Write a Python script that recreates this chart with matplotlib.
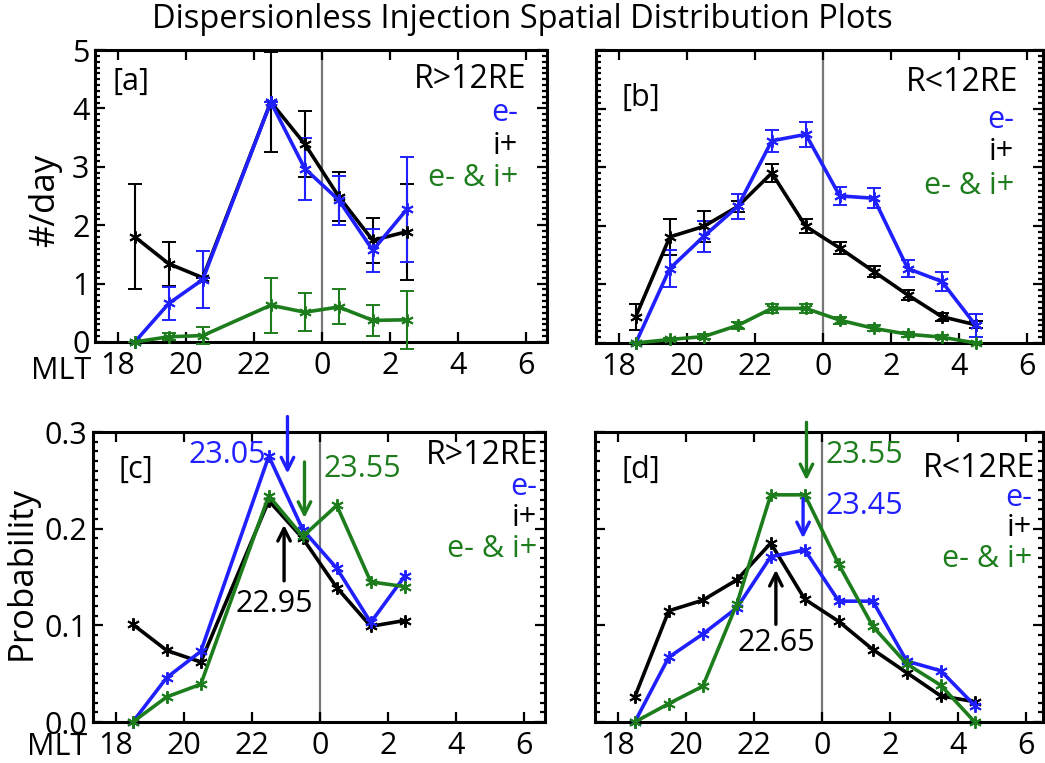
import matplotlib
matplotlib.use("Agg")
import matplotlib.pyplot as plt
from matplotlib.ticker import MultipleLocator, FormatStrFormatter

plt.rcParams["font.family"] = ["Open Sans", "DejaVu Sans"]

BLUE = "#2020ff"
GREEN = "#1d7d1d"
BLACK = "black"

# MLT hours, midnight = 24
x_far = [18.5, 19.5, 20.5, 22.5, 23.5, 24.5, 25.5, 26.5]
x_near = [18.5, 19.5, 20.5, 21.5, 22.5, 23.5, 24.5, 25.5, 26.5, 27.5, 28.5]
xtick_pos = [18, 20, 22, 24, 26, 28, 30]
xtick_lab = ["18", "20", "22", "0", "2", "4", "6"]

# [a] events per day, R > 12 RE
a_ion = [1.80, 1.34, 1.10, 4.11, 3.39, 2.49, 1.74, 1.89]
a_ion_err = [0.90, 0.38, 0.0, 0.85, 0.57, 0.42, 0.39, 0.82]
a_ele = [0.0, 0.66, 1.07, 4.11, 2.97, 2.43, 1.57, 2.27]
a_ele_err = [0.0, 0.28, 0.48, 0.0, 0.53, 0.42, 0.37, 0.90]
a_both = [0.0, 0.09, 0.11, 0.63, 0.51, 0.60, 0.37, 0.38]
a_both_err = [0.0, 0.06, 0.15, 0.47, 0.33, 0.30, 0.27, 0.50]

# [b] events per day, R < 12 RE
b_ion = [0.45, 1.81, 1.99, 2.33, 2.90, 1.99, 1.62, 1.22, 0.82, 0.45, 0.31]
b_ion_err = [0.22, 0.31, 0.26, 0.10, 0.15, 0.12, 0.10, 0.09, 0.08, 0.07, 0.06]
b_ele = [0.0, 1.27, 1.82, 2.33, 3.45, 3.56, 2.51, 2.47, 1.27, 1.05, 0.30]
b_ele_err = [0.0, 0.31, 0.26, 0.21, 0.19, 0.21, 0.16, 0.17, 0.15, 0.16, 0.20]
b_both = [0.0, 0.06, 0.11, 0.30, 0.59, 0.59, 0.39, 0.25, 0.15, 0.10, 0.0]
b_both_err = [0.0, 0.03, 0.04, 0.06, 0.07, 0.07, 0.06, 0.05, 0.04, 0.04, 0.0]

# [c] probability, R > 12 RE
c_ion = [0.101, 0.074, 0.062, 0.229, 0.190, 0.139, 0.099, 0.105]
c_ele = [0.0, 0.046, 0.073, 0.275, 0.199, 0.159, 0.103, 0.151]
c_both = [0.0, 0.026, 0.039, 0.234, 0.192, 0.224, 0.145, 0.140]

# [d] probability, R < 12 RE
d_ion = [0.026, 0.115, 0.126, 0.147, 0.185, 0.127, 0.104, 0.075, 0.051, 0.027, 0.021]
d_ele = [0.0, 0.067, 0.091, 0.118, 0.171, 0.178, 0.125, 0.125, 0.063, 0.053, 0.017]
d_both = [0.0, 0.019, 0.037, 0.122, 0.235, 0.235, 0.163, 0.099, 0.060, 0.038, 0.0]

# mean MLT of each distribution
c_marks = [23.05, 23.55, 22.95]   # e-, e- & i+, i+
d_marks = [23.55, 23.45, 22.65]   # e- & i+, e-, i+

W, H = 1045, 763
fig = plt.figure(figsize=(W / 100, H / 100), dpi=100)


def px_axes(left, top, right, bottom):
    return fig.add_axes([left / W, 1 - bottom / H, (right - left) / W, (bottom - top) / H])


def style(ax, width_px, ymax, ymajor, yminor, ylabels):
    ax.set_xlim(17.33, 17.33 + width_px / 34.0)
    ax.set_ylim(0, ymax)
    ax.set_xticks(xtick_pos)
    ax.set_xticklabels(xtick_lab)
    ax.yaxis.set_major_locator(MultipleLocator(ymajor))
    ax.yaxis.set_minor_locator(MultipleLocator(yminor))
    ax.tick_params(which="both", direction="in", top=True, right=True, labelsize=22, width=1.6)
    ax.tick_params(which="major", length=7)
    ax.tick_params(axis="x", pad=6.5)
    ax.tick_params(axis="y", pad=4)
    ax.tick_params(which="minor", length=3.5)
    ax.tick_params(axis="x", which="minor", length=0)
    if not ylabels:
        ax.set_yticklabels([])
    for s in ax.spines.values():
        s.set_linewidth(2.2)
    ax.axvline(24, color="#777777", lw=1.6, zorder=1)


def series_err(ax, x, y, e, c):
    ax.errorbar(x, y, yerr=e, color=c, lw=2.6, marker=(6, 2, 0), ms=9, mew=1.4,
                capsize=5, elinewidth=1.5, capthick=1.5, clip_on=False, zorder=3)


def series(ax, x, y, c):
    ax.plot(x, y, color=c, lw=2.6, marker=(6, 2, 0), ms=9, mew=1.4, clip_on=False, zorder=3)


def labels(ax, tag, region, tagpos, rx, ry, lx, ly):
    ax.text(tagpos[0], tagpos[1], tag, transform=ax.transAxes, fontsize=22, va="center")
    ax.text(rx, ry, region, transform=ax.transAxes, fontsize=23, ha="right", va="center")
    ax.text(lx, ly[0], "e-", transform=ax.transAxes, fontsize=22, ha="right", va="center", color=BLUE)
    ax.text(lx, ly[1], "i+", transform=ax.transAxes, fontsize=22, ha="right", va="center", color=BLACK)
    ax.text(lx, ly[2], "e- & i+", transform=ax.transAxes, fontsize=22, ha="right", va="center", color=GREEN)


def arrow(ax, x, y0, y1, c):
    ax.annotate("", xy=(x, y1), xytext=(x, y0), annotation_clip=False,
                arrowprops=dict(arrowstyle="->,head_length=0.9,head_width=0.45", color=c, lw=2.4,
                                shrinkA=0, shrinkB=0))


# [a]
ax_a = px_axes(95, 50, 547, 342)
style(ax_a, 452, 5, 1, 0.1, True)
series_err(ax_a, x_far, a_ion, a_ion_err, BLACK)
series_err(ax_a, x_far, a_ele, a_ele_err, BLUE)
series_err(ax_a, x_far, a_both, a_both_err, GREEN)
labels(ax_a, "[a]", "R>12RE", (0.038, 0.89), 0.954, 0.9, 0.936, (0.785, 0.671, 0.56))
ax_a.text(-0.141, -0.1, "MLT", transform=ax_a.transAxes, fontsize=22, va="center")
fig.text(45 / W, 1 - 200 / H, "#/day", rotation=90, fontsize=25, ha="center", va="center")

# [b]
ax_b = px_axes(596, 50, 1043, 343)
style(ax_b, 447, 5, 1, 0.1, False)
series_err(ax_b, x_near, b_ion, b_ion_err, BLACK)
series_err(ax_b, x_near, b_ele, b_ele_err, BLUE)
series_err(ax_b, x_near, b_both, b_both_err, GREEN)
labels(ax_b, "[b]", "R<12RE", (0.058, 0.836), 0.946, 0.89, 0.935, (0.762, 0.652, 0.535))

# [c]
ax_c = px_axes(93, 432, 545, 722)
style(ax_c, 452, 0.3, 0.1, 0.01, True)
ax_c.yaxis.set_major_formatter(FormatStrFormatter("%.1f"))
series(ax_c, x_far, c_ion, BLACK)
series(ax_c, x_far, c_ele, BLUE)
series(ax_c, x_far, c_both, GREEN)
labels(ax_c, "[c]", "R>12RE", (0.056, 0.869), 0.985, 0.918, 0.982, (0.81, 0.703, 0.597))
ax_c.text(-0.145, -0.085, "MLT", transform=ax_c.transAxes, fontsize=22, va="center")
fig.text(22 / W, 1 - 573 / H, "Probability", rotation=90, fontsize=25, ha="center", va="center")
arrow(ax_c, c_marks[0], 0.316, 0.257, BLUE)
ax_c.text(c_marks[0] - 0.62, 0.276, "23.05", color=BLUE, fontsize=22, ha="right", va="center")
arrow(ax_c, c_marks[1], 0.269, 0.211, GREEN)
ax_c.text(c_marks[1] + 0.55, 0.262, "23.55", color=GREEN, fontsize=22, ha="left", va="center")
arrow(ax_c, c_marks[2], 0.146, 0.204, BLACK)
ax_c.text(c_marks[2] - 0.3, 0.122, "22.95", color=BLACK, fontsize=22, ha="center", va="center")

# [d]
ax_d = px_axes(595, 432, 1043, 722)
style(ax_d, 448, 0.3, 0.1, 0.01, False)
series(ax_d, x_near, d_ion, BLACK)
series(ax_d, x_near, d_ele, BLUE)
series(ax_d, x_near, d_both, GREEN)
labels(ax_d, "[d]", "R<12RE", (0.06, 0.869), 0.982, 0.875, 0.975, (0.772, 0.668, 0.562))
arrow(ax_d, d_marks[0], 0.31, 0.25, GREEN)
ax_d.text(d_marks[0] + 0.55, 0.276, "23.55", color=GREEN, fontsize=22, ha="left", va="center")
arrow(ax_d, d_marks[1], 0.231, 0.19, BLUE)
ax_d.text(d_marks[1] + 0.65, 0.223, "23.45", color=BLUE, fontsize=22, ha="left", va="center")
arrow(ax_d, d_marks[2], 0.101, 0.1575, BLACK)
ax_d.text(d_marks[2], 0.082, "22.65", color=BLACK, fontsize=22, ha="center", va="center")

fig.text(522 / W, 1 - 19 / H, "Dispersionless Injection Spatial Distribution Plots",
         fontsize=23.5, ha="center", va="center")

fig.savefig("out.png", dpi=100)
